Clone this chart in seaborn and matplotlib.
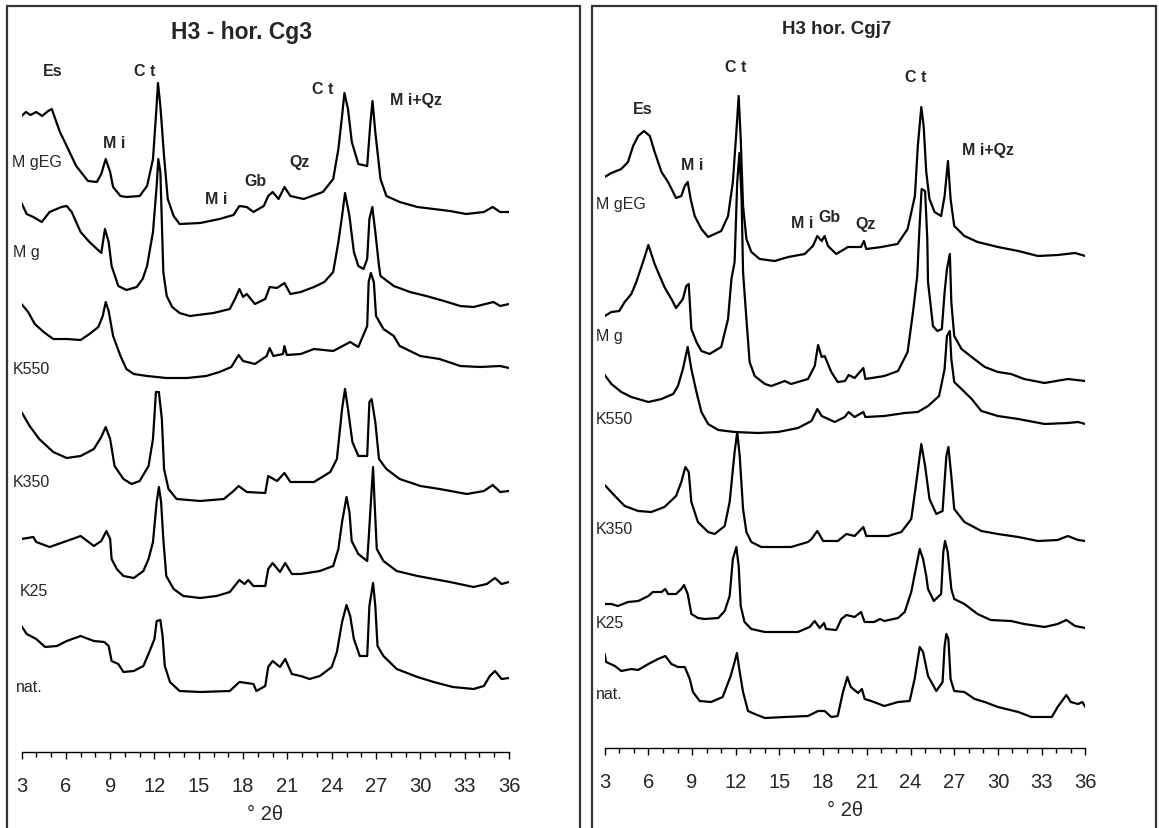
import numpy as np
import matplotlib
matplotlib.use("Agg")
import matplotlib.pyplot as plt
from matplotlib.ticker import MultipleLocator
from matplotlib.patches import Rectangle
import seaborn as sns

sns.set_style("white")
plt.rcParams['font.family'] = ['Liberation Sans', 'DejaVu Sans']

# ---- left panel: H3 - hor. Cg3 (degrees 2theta, intensity in arbitrary stacked units)
L_mgeg_x = [3.0, 3.3, 3.6, 4.0, 4.4, 4.8, 5.05, 5.6, 6.06, 6.7, 7.5, 8.1, 8.4, 8.7, 9.0, 9.2, 9.7, 10.1, 11.0, 11.5, 11.9, 12.1, 12.24, 12.4, 12.65, 12.9, 13.3, 13.7, 15.1, 16.4, 17.35, 17.75, 18.25, 18.7, 19.4, 19.7, 20.0, 20.4, 20.8, 21.2, 22.1, 23.4, 24.1, 24.45, 24.7, 24.86, 25.1, 25.36, 25.8, 26.4, 26.6, 26.76, 26.95, 27.3, 27.7, 28.6, 29.8, 30.9, 32.0, 33.1, 34.3, 34.9, 35.4, 36.0]
L_mgeg_y = [636, 640, 637, 640, 636, 641, 643, 620, 606, 586, 571, 570, 578, 593, 580, 565, 556, 555, 556, 566, 593, 636, 669, 646, 596, 553, 536, 528, 529, 533, 537, 546, 545, 540, 546, 556, 560, 553, 565, 556, 553, 560, 573, 603, 636, 659, 643, 610, 588, 586, 626, 651, 620, 573, 556, 550, 545, 543, 541, 538, 540, 545, 540, 540]

L_mg_x = [3.0, 3.35, 3.8, 4.37, 4.9, 5.7, 6.06, 6.4, 7.0, 7.6, 8.4, 8.65, 8.9, 9.1, 9.55, 10.1, 10.8, 11.2, 11.5, 11.9, 12.15, 12.26, 12.4, 12.6, 12.83, 13.2, 13.7, 14.4, 16.0, 17.1, 17.45, 17.75, 18.0, 18.25, 18.8, 19.5, 19.8, 20.3, 20.8, 21.2, 21.9, 22.8, 23.5, 24.1, 24.45, 24.7, 24.9, 25.2, 25.5, 25.8, 26.15, 26.4, 26.55, 26.75, 26.95, 27.2, 27.3, 28.2, 29.3, 30.4, 31.6, 32.7, 33.6, 34.95, 35.4, 36.0]
L_mg_y = [549, 538, 535, 530, 540, 545, 546, 540, 520, 510, 499, 523, 510, 486, 466, 462, 465, 473, 486, 520, 566, 593, 580, 480, 456, 445, 439, 436, 439, 443, 453, 463, 455, 458, 448, 453, 465, 464, 469, 458, 460, 465, 470, 480, 510, 536, 559, 536, 500, 486, 483, 493, 533, 545, 520, 486, 476, 466, 460, 456, 451, 446, 445, 450, 446, 448]

L_k550_x = [3.0, 3.45, 3.9, 4.5, 5.15, 6.06, 7.0, 7.6, 8.2, 8.5, 8.7, 8.9, 9.2, 9.7, 10.1, 10.6, 11.5, 12.8, 14.2, 15.5, 16.4, 17.2, 17.7, 18.0, 18.8, 19.6, 19.8, 20.05, 20.7, 20.8, 20.96, 21.9, 22.8, 24.1, 25.25, 25.8, 26.4, 26.5, 26.65, 26.85, 27.0, 27.5, 28.2, 28.6, 30.0, 31.3, 32.7, 34.05, 35.4, 36.0]
L_k550_y = [448, 440, 428, 420, 413, 413, 412, 418, 425, 436, 450, 441, 416, 396, 383, 378, 376, 374, 374, 376, 380, 385, 397, 391, 388, 396, 404, 396, 398, 406, 397, 398, 403, 401, 410, 405, 426, 470, 479, 470, 436, 423, 416, 406, 396, 393, 386, 385, 386, 384]

L_k350_x = [3.0, 3.55, 4.2, 5.15, 6.06, 7.0, 7.9, 8.4, 8.7, 9.0, 9.3, 9.9, 10.45, 11.0, 11.6, 11.9, 12.1, 12.3, 12.5, 12.65, 12.95, 13.5, 15.1, 16.7, 17.35, 17.7, 18.25, 19.5, 19.7, 20.3, 20.8, 21.2, 22.8, 23.9, 24.35, 24.7, 24.9, 25.1, 25.4, 25.8, 26.4, 26.55, 26.7, 26.95, 27.2, 27.7, 28.6, 30.0, 31.3, 33.15, 34.3, 34.9, 35.4, 36.0]
L_k350_y = [340, 326, 313, 300, 294, 296, 303, 315, 325, 313, 286, 273, 268, 271, 286, 313, 360, 360, 333, 283, 263, 253, 251, 253, 261, 266, 260, 259, 276, 271, 279, 270, 270, 280, 293, 343, 363, 343, 310, 296, 296, 350, 353, 330, 293, 283, 273, 266, 263, 258, 261, 267, 260, 261]

L_k25_x = [3.0, 3.8, 4.0, 4.9, 6.06, 7.0, 7.9, 8.4, 8.75, 9.0, 9.1, 9.45, 9.9, 10.6, 11.25, 11.6, 11.9, 12.15, 12.3, 12.45, 12.6, 12.8, 13.3, 13.95, 15.1, 16.2, 17.1, 17.75, 18.1, 18.35, 18.7, 19.5, 19.7, 20.0, 20.5, 20.85, 21.3, 21.9, 23.2, 24.1, 24.45, 24.7, 25.0, 25.2, 25.35, 25.8, 26.4, 26.5, 26.65, 26.8, 26.9, 27.05, 27.5, 28.4, 29.8, 30.9, 32.0, 33.6, 34.5, 35.05, 35.5, 36.0]
L_k25_y = [213, 215, 210, 205, 211, 216, 206, 211, 221, 213, 193, 183, 176, 174, 181, 193, 210, 250, 265, 250, 213, 176, 163, 156, 154, 156, 160, 172, 168, 172, 166, 166, 183, 189, 180, 189, 178, 178, 181, 186, 203, 230, 255, 240, 211, 198, 191, 213, 250, 285, 250, 203, 191, 181, 176, 173, 170, 165, 168, 174, 168, 170]

L_nat_x = [3.0, 3.35, 4.0, 4.6, 5.4, 6.06, 7.0, 7.9, 8.6, 8.9, 9.1, 9.55, 9.9, 10.6, 11.25, 11.65, 12.0, 12.15, 12.4, 12.55, 12.7, 13.05, 13.7, 15.1, 17.1, 17.75, 18.25, 18.7, 18.9, 19.5, 19.7, 20.0, 20.5, 20.85, 21.3, 21.9, 22.5, 23.2, 24.0, 24.35, 24.7, 25.0, 25.25, 25.5, 25.9, 26.4, 26.55, 26.8, 26.95, 27.1, 27.5, 28.4, 29.8, 30.9, 32.2, 33.6, 34.3, 34.7, 35.05, 35.5, 36.0]
L_nat_y = [126, 118, 113, 105, 106, 111, 116, 111, 110, 106, 91, 88, 80, 81, 86, 100, 113, 131, 132, 116, 86, 70, 61, 60, 61, 70, 69, 68, 61, 66, 85, 91, 85, 93, 78, 76, 73, 76, 85, 100, 130, 147, 136, 113, 96, 96, 146, 169, 146, 106, 96, 83, 75, 70, 65, 63, 66, 76, 81, 73, 74]

# ---- right panel: H3 hor. Cgj7
R_mgeg_x = [3.0, 3.46, 4.14, 4.6, 4.95, 5.3, 5.7, 6.1, 6.43, 6.9, 7.35, 7.9, 8.26, 8.5, 8.7, 8.9, 9.18, 9.64, 10.1, 10.55, 11.0, 11.47, 11.8, 12.04, 12.2, 12.34, 12.5, 12.73, 13.07, 13.64, 14.67, 15.6, 16.73, 17.3, 17.6, 17.9, 18.1, 18.33, 18.9, 19.48, 19.7, 20.6, 20.8, 20.96, 22.0, 23.1, 23.8, 24.3, 24.5, 24.74, 24.9, 25.08, 25.3, 25.65, 26.1, 26.34, 26.57, 26.75, 27.0, 27.7, 28.6, 30.0, 31.4, 32.75, 34.1, 35.3, 36.0]
R_mgeg_y = [571, 575, 579, 586, 602, 612, 617, 612, 596, 576, 566, 550, 552, 562, 566, 549, 532, 519, 511, 514, 517, 532, 566, 616, 652, 609, 542, 509, 496, 489, 487, 491, 494, 502, 512, 507, 512, 502, 494, 499, 501, 501, 507, 499, 501, 504, 519, 552, 602, 641, 622, 576, 549, 536, 532, 552, 587, 549, 522, 512, 506, 501, 497, 492, 493, 495, 492]

R_mg_x = [3.0, 3.46, 4.0, 4.37, 4.83, 5.17, 5.4, 5.63, 6.0, 6.43, 6.66, 7.1, 7.58, 7.9, 8.37, 8.6, 8.77, 8.95, 9.3, 9.64, 10.2, 11.0, 11.47, 11.7, 11.92, 12.1, 12.25, 12.4, 12.5, 12.73, 12.95, 13.3, 14.0, 14.44, 15.36, 15.8, 16.96, 17.42, 17.65, 17.9, 18.1, 18.56, 19.0, 19.5, 19.75, 20.16, 20.76, 20.9, 22.2, 23.14, 23.8, 24.17, 24.46, 24.6, 24.76, 25.0, 25.15, 25.2, 25.54, 25.84, 26.15, 26.34, 26.5, 26.7, 26.8, 27.0, 27.5, 28.2, 29.1, 30.0, 30.9, 31.8, 33.2, 34.8, 36.0]
R_mg_y = [432, 436, 437, 446, 454, 466, 476, 486, 503, 484, 476, 461, 449, 440, 449, 462, 464, 419, 406, 397, 394, 401, 429, 469, 486, 566, 595, 549, 476, 429, 386, 372, 364, 362, 367, 364, 369, 382, 403, 391, 392, 376, 366, 367, 373, 370, 380, 369, 372, 377, 396, 436, 472, 516, 559, 557, 509, 466, 422, 417, 419, 456, 479, 494, 446, 412, 399, 391, 381, 376, 374, 369, 365, 369, 367]

R_k550_x = [3.0, 3.46, 4.14, 4.83, 6.0, 6.9, 7.7, 8.03, 8.37, 8.7, 8.95, 9.3, 9.64, 10.1, 10.8, 11.92, 13.5, 14.9, 16.27, 17.2, 17.6, 17.9, 18.8, 19.48, 19.75, 20.16, 20.76, 20.9, 22.2, 23.6, 24.5, 25.2, 25.96, 26.34, 26.5, 26.7, 26.8, 27.0, 27.5, 28.2, 28.86, 30.0, 31.4, 33.2, 34.8, 35.5, 36.0]
R_k550_y = [373, 364, 356, 351, 346, 349, 354, 362, 379, 401, 379, 356, 336, 324, 318, 316, 315, 316, 320, 327, 339, 332, 326, 331, 336, 331, 336, 331, 332, 335, 336, 342, 352, 379, 412, 417, 389, 366, 359, 349, 337, 332, 329, 324, 325, 326, 324]

R_k350_x = [3.0, 3.7, 4.37, 5.3, 6.2, 7.1, 7.9, 8.26, 8.54, 8.77, 8.95, 9.4, 10.1, 10.55, 11.24, 11.58, 11.92, 12.1, 12.27, 12.5, 12.73, 13.07, 13.75, 14.9, 15.8, 16.96, 17.2, 17.6, 18.0, 19.0, 19.6, 20.16, 20.76, 20.96, 22.45, 23.37, 24.05, 24.4, 24.74, 25.0, 25.3, 25.77, 26.2, 26.46, 26.6, 26.8, 27.0, 27.7, 28.86, 30.0, 31.4, 32.75, 34.1, 34.8, 35.5, 36.0]
R_k350_y = [263, 252, 242, 237, 236, 241, 252, 266, 281, 276, 246, 226, 216, 214, 222, 246, 296, 316, 292, 239, 216, 206, 201, 201, 201, 206, 209, 217, 207, 207, 214, 212, 221, 212, 212, 216, 229, 266, 304, 282, 249, 234, 237, 292, 301, 272, 239, 226, 217, 214, 211, 207, 208, 212, 208, 207]

R_k25_x = [3.0, 3.46, 3.9, 4.6, 5.3, 6.0, 6.3, 6.9, 7.16, 7.35, 7.9, 8.26, 8.45, 8.7, 8.95, 9.4, 9.86, 10.8, 11.24, 11.58, 11.8, 12.04, 12.2, 12.34, 12.6, 13.07, 14.0, 15.36, 16.27, 17.07, 17.42, 17.76, 18.06, 18.2, 18.9, 19.25, 19.6, 20.16, 20.6, 20.85, 21.5, 21.9, 22.2, 23.14, 23.6, 24.05, 24.4, 24.63, 24.86, 25.08, 25.2, 25.6, 26.1, 26.25, 26.37, 26.55, 26.8, 27.0, 27.7, 28.6, 29.5, 30.9, 31.8, 33.2, 34.1, 34.7, 35.3, 36.0]
R_k25_y = [144, 144, 142, 146, 147, 152, 156, 156, 159, 154, 154, 159, 163, 154, 134, 130, 129, 130, 137, 152, 189, 201, 182, 142, 126, 119, 116, 116, 116, 121, 127, 120, 125, 119, 118, 129, 133, 131, 136, 126, 126, 129, 127, 130, 136, 156, 182, 199, 189, 172, 159, 147, 154, 196, 207, 196, 159, 149, 144, 134, 128, 127, 124, 121, 124, 128, 122, 120]

R_nat_x = [3.0, 3.1, 3.7, 4.14, 4.83, 5.3, 6.0, 6.66, 7.16, 7.58, 8.03, 8.5, 8.84, 9.06, 9.52, 10.3, 11.1, 11.65, 11.92, 12.08, 12.27, 12.5, 12.84, 13.3, 14.0, 15.36, 16.96, 17.65, 18.1, 18.56, 19.0, 19.36, 19.66, 19.9, 20.4, 20.66, 20.85, 21.3, 22.2, 23.14, 23.94, 24.28, 24.63, 24.86, 25.2, 25.77, 26.2, 26.34, 26.46, 26.6, 26.75, 27.0, 27.7, 28.4, 29.1, 30.0, 31.4, 32.3, 33.7, 34.1, 34.7, 35.0, 35.5, 35.8, 36.0]
R_nat_y = [94, 86, 82, 77, 79, 78, 84, 89, 92, 84, 81, 81, 69, 56, 47, 46, 51, 72, 86, 95, 76, 56, 37, 34, 30, 31, 32, 37, 37, 31, 32, 56, 71, 61, 55, 59, 49, 47, 42, 46, 47, 69, 101, 96, 72, 57, 66, 102, 114, 109, 69, 57, 56, 49, 46, 41, 36, 31, 31, 41, 53, 46, 44, 46, 41]

trace_names = ['M gEG', 'M g', 'K550', 'K350', 'K25', 'nat.']
peak_labels = ['Es', 'C t', 'M i', 'C t', 'M i+Qz', 'M i', 'Gb', 'Qz']

left_traces = [(L_mgeg_x, L_mgeg_y), (L_mg_x, L_mg_y), (L_k550_x, L_k550_y),
               (L_k350_x, L_k350_y), (L_k25_x, L_k25_y), (L_nat_x, L_nat_y)]
right_traces = [(R_mgeg_x, R_mgeg_y), (R_mg_x, R_mg_y), (R_k550_x, R_k550_y),
                (R_k350_x, R_k350_y), (R_k25_x, R_k25_y), (R_nat_x, R_nat_y)]

W, H = 1159, 829
fig = plt.figure(figsize=(W / 100, H / 100), dpi=100)

# panel frames
for x0, x1 in [(7, 580), (592, 1156)]:
    fig.patches.append(Rectangle((x0 / W, -0.02), (x1 - x0) / W, 1.02 - 7 / H,
                                 transform=fig.transFigure, fill=False,
                                 edgecolor='#333333', linewidth=1.6))

ax1 = fig.add_axes([21.5 / W, (H - 753) / H, 487.5 / W, 745 / H])
ax2 = fig.add_axes([604.7 / W, (H - 749) / H, 480.6 / W, 741 / H])

for ax, traces, ytop in [(ax1, left_traces, 745), (ax2, right_traces, 741)]:
    for x, y in traces:
        sns.lineplot(x=x, y=y, ax=ax, color='black', linewidth=1.6,
                     estimator=None, sort=False, legend=False)
    ax.set_xlim(3, 36)
    ax.set_ylim(0, ytop)
    ax.patch.set_alpha(0)
    for s in ['left', 'top', 'right']:
        ax.spines[s].set_visible(False)
    ax.spines['bottom'].set_color('black')
    ax.spines['bottom'].set_linewidth(1.0)
    ax.set_yticks([])
    ax.xaxis.set_major_locator(MultipleLocator(3))
    ax.xaxis.set_minor_locator(MultipleLocator(1))
    ax.tick_params(axis='x', which='major', direction='out', length=5, width=1,
                   color='black', labelsize=14.5, pad=12, bottom=True)
    ax.tick_params(axis='x', which='minor', direction='out', length=3.5, width=1,
                   color='black', bottom=True)
    ax.set_xlabel('° 2θ', fontsize=14.5, labelpad=7)
    ax.set_ylabel('')

# trace names
left_name_pos = [(2.36, 590), (2.44, 501), (2.44, 383), (2.44, 270), (2.85, 161), (2.63, 65)]
right_name_pos = [(2.40, 544), (2.40, 412), (2.40, 329), (2.40, 219), (2.40, 126), (2.40, 54)]
for ax, pos in [(ax1, left_name_pos), (ax2, right_name_pos)]:
    for name, (px, py) in zip(trace_names, pos):
        ax.text(px, py, name, fontsize=11.5, ha='left', va='center', clip_on=False)

# peak labels
left_peak_pos = [(5.13, 681), (11.36, 681), (9.26, 609), (23.41, 664), (29.71, 653),
                 (16.17, 554), (18.81, 571), (21.79, 590)]
right_peak_pos = [(5.63, 639), (11.98, 681), (9.0, 583), (24.34, 672), (29.32, 599),
                  (16.55, 525), (18.4, 532), (20.94, 524)]
for ax, pos in [(ax1, left_peak_pos), (ax2, right_peak_pos)]:
    for lab, (px, py) in zip(peak_labels, pos):
        ax.text(px, py, lab, fontsize=11.5, fontweight='bold', ha='center', va='center')

fig.text(242 / W, 1 - 32 / H, 'H3 - hor. Cg3', fontsize=16.5, fontweight='bold',
         ha='center', va='center')
fig.text(837 / W, 1 - 30 / H, 'H3 hor. Cgj7', fontsize=13.5, fontweight='bold',
         ha='center', va='center')

fig.savefig('out.png', dpi=100)
